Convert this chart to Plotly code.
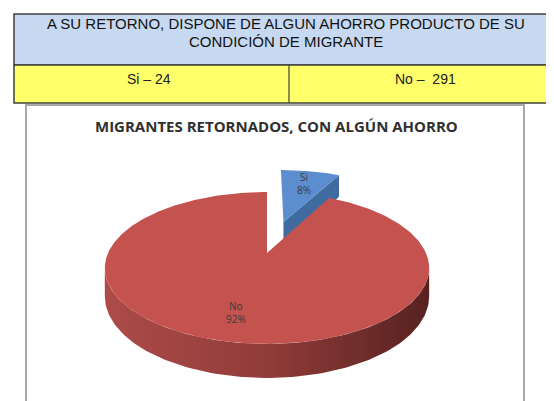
import numpy as np
import plotly.graph_objects as go

# ---------------- data ----------------
categories = ["Si", "No"]
counts = [24, 291]
table_title_lines = ["A SU RETORNO, DISPONE DE ALGUN AHORRO PRODUCTO DE SU", "CONDICIÓN DE MIGRANTE"]
table_cells = ["Si – 24", "No –  291"]
chart_title = "MIGRANTES RETORNADOS, CON ALGÚN AHORRO"

# ---------------- style ----------------
top_colors = ["#5b8dcf", "#c4534f"]
cut_colors = ["#3f6ba1", "#8e3b39"]
side_scales = [
    [[0, "#4a78b0"], [1, "#2c4f7a"]],
    [[0, "#ad4b48"], [0.5, "#903c3a"], [1, "#572220"]],
]
explode = [0.476, 0.0]

W, H = 554, 401
OFF = 8  # page body margin compensation
CX, CY, RX, RY, P, T = 267, 253, 159, 73, 0.197, 27.3


def proj(u, v, h=0.0):
    u = np.asarray(u, float)
    v = np.asarray(v, float)
    g = 1.0 / (1.0 + P * v)
    return CX + RX * u * g, CY - RY * v * g + T * h * g


fig = go.Figure()

# --------------- pie geometry from the data ----------------
total = float(sum(counts))
fr = [c / total for c in counts]
starts = np.cumsum([0] + fr[:-1]) * 360.0
ends = starts + np.array(fr) * 360.0
mids = (starts + ends) / 2

sil_a = np.degrees(np.arccos(-P))
sil_b = 360 - sil_a

order = sorted(range(len(counts)), key=lambda i: -np.cos(np.radians(mids[i])) * (1 + explode[i]))


def add_poly(xs, ys, color=None, grad=None):
    kw = dict(x=list(xs) + [xs[0]], y=list(ys) + [ys[0]], mode="lines", fill="toself",
              line=dict(width=0), hoverinfo="skip", showlegend=False)
    if grad is not None:
        kw["fillgradient"] = dict(type="horizontal", colorscale=grad)
    else:
        kw["fillcolor"] = color
    fig.add_trace(go.Scatter(**kw))


for i in order:
    a0, a1, m = starts[i], ends[i], mids[i]
    du = explode[i] * np.sin(np.radians(m))
    dv = explode[i] * np.cos(np.radians(m))
    # cut faces
    for ang, vis in ((a1, np.sin(np.radians(a1)) > 1e-6), (a0, np.sin(np.radians(a0)) < -1e-6)):
        if vis:
            ru, rv = du + np.sin(np.radians(ang)), dv + np.cos(np.radians(ang))
            x1, y1 = proj(du, dv, 0)
            x2, y2 = proj(ru, rv, 0)
            x3, y3 = proj(ru, rv, 1)
            x4, y4 = proj(du, dv, 1)
            add_poly([x1, x2, x3, x4], [y1, y2, y3, y4], color=cut_colors[i])
    # outer side (front-facing part)
    lo, hi = max(a0, sil_a), min(a1, sil_b)
    if hi > lo:
        th = np.radians(np.linspace(lo, hi, 120))
        xt, yt = proj(du + np.sin(th), dv + np.cos(th), 0)
        xb, yb = proj(du + np.sin(th), dv + np.cos(th), 1)
        add_poly(np.concatenate([xt, xb[::-1]]), np.concatenate([yt, yb[::-1]]), grad=side_scales[i])
    # top face
    th = np.radians(np.linspace(a0, a1, max(8, int((a1 - a0) * 1.5))))
    xt, yt = proj(du + np.sin(th), dv + np.cos(th), 0)
    xa, ya = proj(du, dv, 0)
    add_poly(np.concatenate([[xa], xt]), np.concatenate([[ya], yt]), color=top_colors[i])

# labels
for i in range(len(counts)):
    m = np.radians(mids[i])
    du = explode[i] * np.sin(m)
    dv = explode[i] * np.cos(m)
    lx, ly = proj(du + 0.72 * np.sin(m), dv + 0.72 * np.cos(m), 0)
    fig.add_annotation(x=float(lx), y=float(ly), xref="x", yref="y",
                       text=f"{categories[i]}<br>{round(fr[i]*100)}%", showarrow=False,
                       font=dict(family="Open Sans", size=10, color="#3a3a3a"),
                       xanchor="center", yanchor="middle")

# --------------- table & frame ----------------
shapes = [
    dict(type="rect", x0=14, y0=14, x1=550, y1=65, fillcolor="#c6d9f0",
         line=dict(color="#404040", width=1.5), layer="below"),
    dict(type="rect", x0=14, y0=65, x1=550, y1=103, fillcolor="#ffff6a",
         line=dict(color="#404040", width=1.5), layer="below"),
    dict(type="line", x0=289, y0=65, x1=289, y1=103, line=dict(color="#404040", width=1.2)),
    dict(type="rect", x0=26, y0=105, x1=524, y1=420, fillcolor="white",
         line=dict(color="#a8a8a8", width=2), layer="below"),
]
for s in shapes:
    s.update(xref="x", yref="y")
fig.update_layout(shapes=shapes)

for k, (txt, yy) in enumerate(zip(table_title_lines, [23, 41])):
    fig.add_annotation(x=286, y=yy, xref="x", yref="y", text=txt, showarrow=False,
                       font=dict(family="Liberation Sans", size=15, color="#111111"),
                       xanchor="center", yanchor="middle")
for txt, xx in zip(table_cells, [149, 425]):
    fig.add_annotation(x=xx, y=79, xref="x", yref="y", text=txt, showarrow=False,
                       font=dict(family="Liberation Sans", size=14, color="#202020"),
                       xanchor="center", yanchor="middle")
fig.add_annotation(x=276, y=126, xref="x", yref="y", text=f"<b>{chart_title}</b>", showarrow=False,
                   font=dict(family="Open Sans", size=15, color="#303030"),
                   xanchor="center", yanchor="middle")

fig.update_layout(
    width=W, height=H, margin=dict(l=0, r=0, t=0, b=0),
    paper_bgcolor="white", plot_bgcolor="white",
    xaxis=dict(range=[OFF, W + OFF], visible=False, fixedrange=True),
    yaxis=dict(range=[H + OFF, OFF], visible=False, fixedrange=True),
    showlegend=False,
)
fig.write_html("out.html")
